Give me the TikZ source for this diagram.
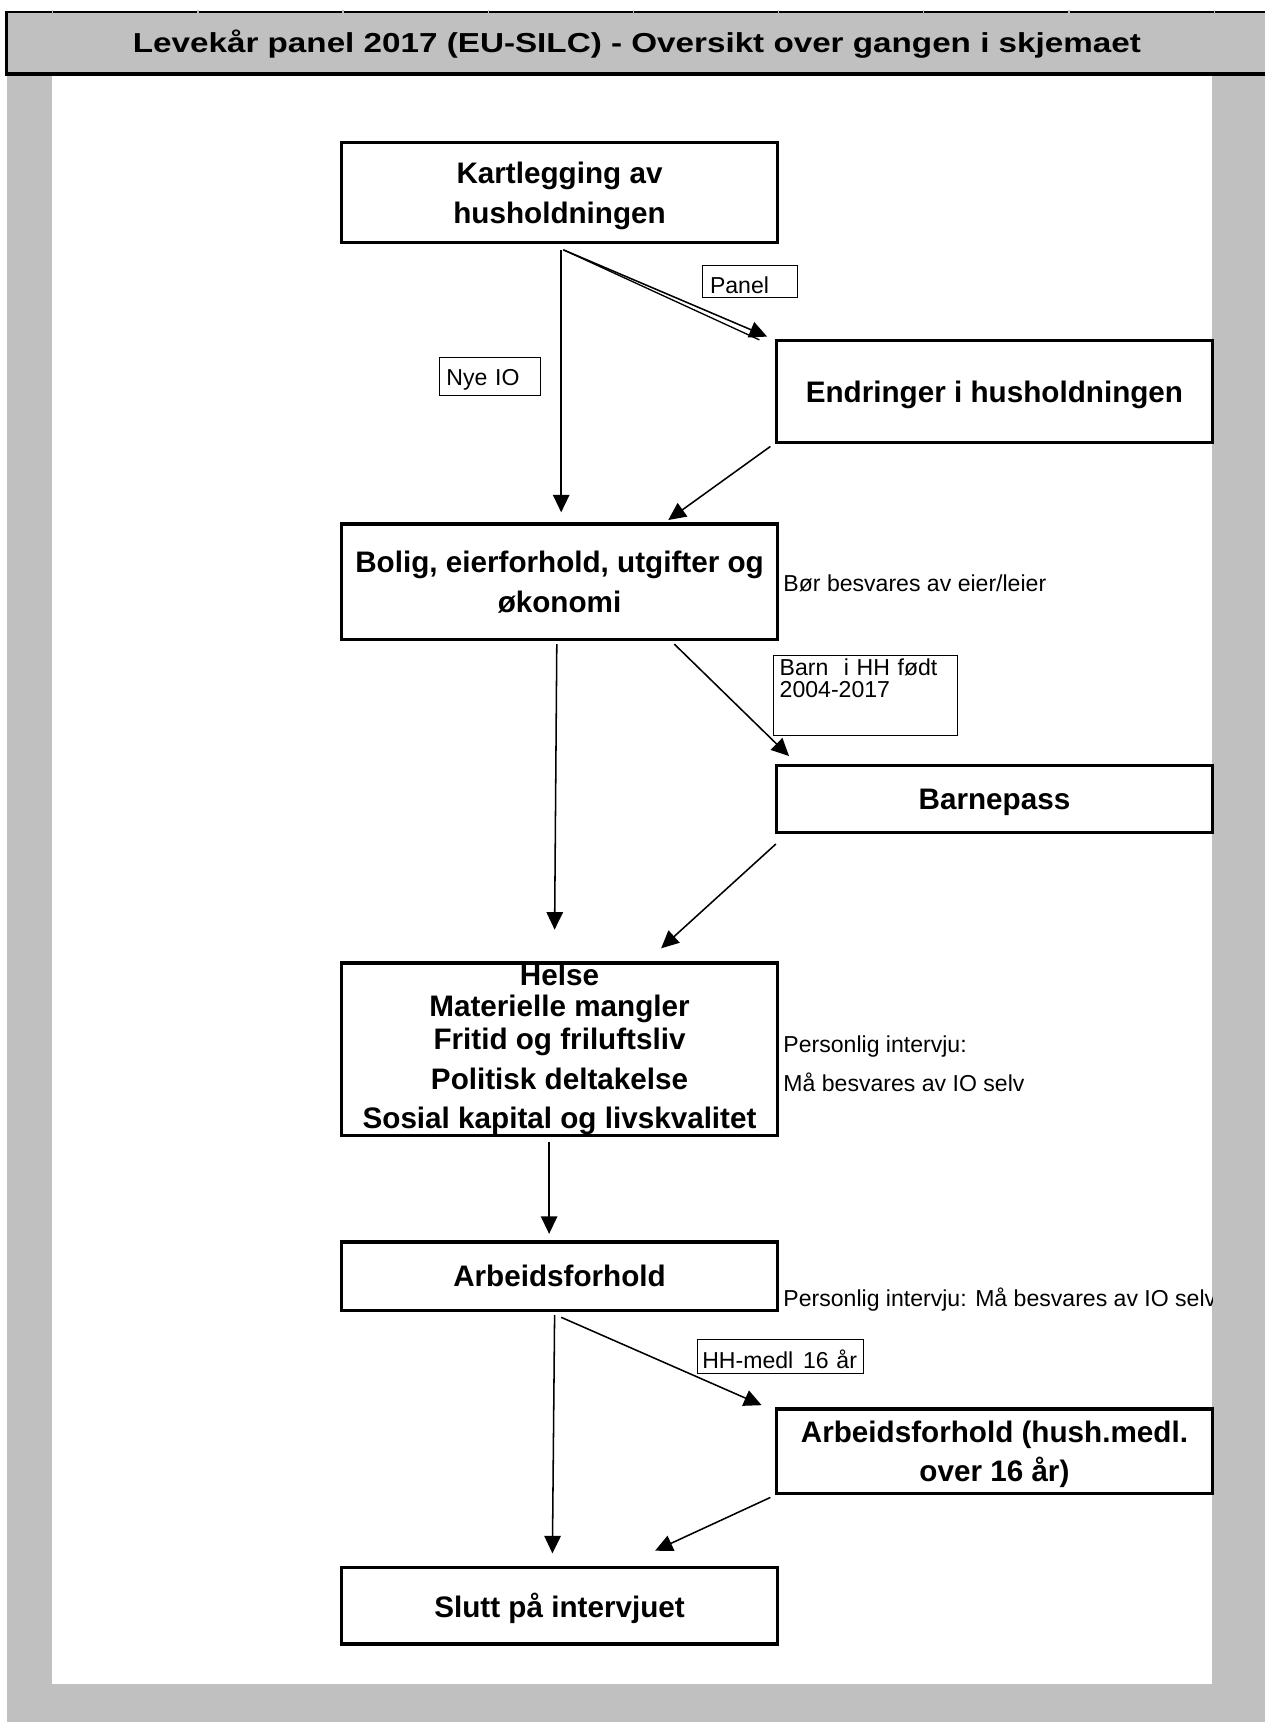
\documentclass[tikz,border=0pt]{standalone}
\usepackage{fontspec}
\usepackage{graphicx}
\setmainfont{Liberation Sans}
\usetikzlibrary{arrows.meta,calc}
\definecolor{framegray}{RGB}{192,192,192}
\newcommand{\flatline}[1]{\raisebox{0pt}[\height][0pt]{#1}}
\begin{document}
\begin{tikzpicture}[x=0.5pt,y=-0.5pt,
  box/.style={draw,line width=1.5pt,inner sep=0pt,align=center,
    minimum width=198.5pt,font=\fontsize{13.5}{18}\selectfont\bfseries},
  tag/.style={draw,line width=0.5pt,inner ysep=0pt,align=left,anchor=north west,
    font=\fontsize{10.5}{10}\selectfont},
  note/.style={anchor=base west,inner sep=0pt,font=\fontsize{10.5}{12}\selectfont},
  arr/.style={line width=0.7pt,-{Triangle[length=8pt,width=7.5pt]}}]
\useasboundingbox (0,0) rectangle (1152,1568);
% frame and title bar
\fill[framegray] (6.4,10) rectangle (1152,1568);
\fill[white] (47.4,69) rectangle (1104,1533);
\draw[line width=0.9pt] (6.4,10.5) -- (1152,10.5);
\foreach \x in {48,180.2,...,1110} \draw[framegray,line width=0.6pt] (\x,9.4) -- (\x,11.6);
\draw[line width=1.4pt] (5.6,10) -- (5.6,69.2);
\draw[line width=1.8pt] (4.9,67.4) -- (1152,67.4);
\node[font=\fontsize{12.5}{14}\selectfont\bfseries,anchor=base,inner sep=0pt] (title) at (580,48)
  {\scalebox{1.21}[1]{Levekår panel 2017 (EU-SILC) - Oversikt over gangen i skjemaet}};
% boxes
\node[box,minimum height=45.5pt] (kart) at (509.5,175.5) {Kartlegging av\\\flatline{husholdningen}};
\node[box,minimum height=46.5pt] (endr) at (905.5,356.5) {\flatline{Endringer i husholdningen}};
\node[box,minimum height=52.5pt] (bolig) at (509.5,529.5) {Bolig, eierforhold, utgifter og\\\flatline{økonomi}};
\node[box,minimum height=30.5pt] (barnep) at (905.5,727.5) {\flatline{Barnepass}};
\node[box,minimum height=78.5pt,font=\fontsize{13.5}{14}\selectfont\bfseries] (helse) at (509.5,955.5)
  {Helse\\Materielle mangler\\[1pt]Fritid og friluftsliv\\[4.5pt]Politisk deltakelse\\[3.5pt]Sosial kapital og livskvalitet};
\node[box,minimum height=31pt] (arb) at (509.5,1162) {\flatline{Arbeidsforhold}};
\node[box,minimum height=38.5pt] (arbhh) at (905.5,1321.5) {Arbeidsforhold (hush.medl.\\\flatline{over 16 år)}};
\node[box,minimum height=35pt] (slutt) at (509.5,1462) {\flatline{Slutt på intervjuet}};
% conditions on the arrows
\node[tag,inner xsep=3.5pt,text width=36.5pt,text height=13pt,text depth=1.5pt] (lpanel) at (639,241) {Panel};
\node[tag,inner xsep=3pt,text width=40pt,text height=12.75pt,text depth=4.75pt] (lnye) at (400,325) {Nye IO};
\node[tag,inner xsep=2.75pt,text width=78pt,text height=9.5pt,text depth=27pt] (lbarn) at (704,596) {Barn~~i HH født\\2004-2017};
\node[tag,inner xsep=2pt,text width=71.5pt,text height=13.25pt,text depth=2pt] (lhh) at (635,1219.5) {\mbox{HH-medl\hspace{4.5pt}16 år}};
% notes
\node[note] (n1) at (713,539) {Bør besvares av eier/leier};
\node[note] (n2) at (713,958) {Personlig intervju:};
\node[note] (n3) at (713,994) {Må besvares av IO selv};
\begin{scope}
\clip (700,1150) rectangle (1104,1210);
\node[note] (n4) at (713,1190) {Personlig intervju: Må besvares av IO selv};
\end{scope}
% arrows
\draw[arr] ($(kart.south)+(1.5,5)$) -- ($(bolig.north)+(1.5,-9)$);
\draw[arr] ($(kart.south)+(3.5,5)$) -- ($(endr.north west)+(-7,-2)$);
\draw[line width=0.6pt] ($(kart.south)+(3.5,5)$) -- ($(endr.north west)+(-14,1)$);
\draw[arr] ($(endr.south west)+(-4,2)$) -- ($(bolig.north)+(99,-2)$);
\draw[arr] ($(bolig.south)+(-2.5,3)$) -- ($(helse.north)+(-4.5,-29)$);
\draw[arr] ($(bolig.south)+(104.5,3)$) -- ($(barnep.north west)+(13,-7)$);
\draw[arr] ($(barnep.south west)+(1,9)$) -- ($(helse.north)+(92.5,-12)$);
\draw[arr] ($(helse.south)+(-9.5,4)$) -- ($(arb.north)+(-9.5,-6)$);
\draw[arr] ($(arb.south)+(-4.5,3)$) -- ($(slutt.north)+(-6.5,-11)$);
\draw[arr] ($(arb.south)+(1.5,5)$) -- ($(arbhh.north west)+(-12,-2)$);
\draw[arr] ($(arbhh.south west)+(-4,2)$) -- ($(slutt.north)+(87,-13.5)$);
\end{tikzpicture}
\end{document}
